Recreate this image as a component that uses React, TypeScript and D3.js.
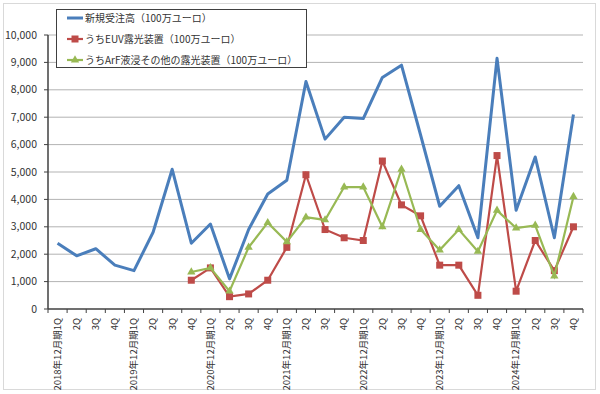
import React from 'react';
import * as d3 from 'd3';

const FISCAL_YEARS = [2018, 2019, 2020, 2021, 2022, 2023, 2024];
const QUARTERS = ['1Q', '2Q', '3Q', '4Q'];

// 新規受注高（100万ユーロ）
const ORDERS = [
  2400, 1940, 2200, 1600, 1400, 2800, 5100, 2400, 3100, 1100, 2900, 4200, 4700, 8300,
  6200, 7000, 6950, 8450, 8900, 6350, 3750, 4500, 2600, 9150, 3600, 5550, 2600, 7100,
];
// うちEUV露光装置
const EUV: (number | null)[] = [
  null, null, null, null, null, null, null,
  1050, 1500, 450, 550, 1050, 2250, 4900, 2900, 2600, 2500, 5400, 3800, 3400,
  1600, 1600, 500, 5600, 650, 2500, 1400, 3000,
];
// うちArF液浸その他の露光装置
const ARF: (number | null)[] = [
  null, null, null, null, null, null, null,
  1350, 1500, 650, 2250, 3150, 2450, 3350, 3250, 4450, 4450, 3000, 5100, 2900,
  2150, 2900, 2100, 3600, 2950, 3050, 1200, 4100,
];

const Y_TICKS = [0, 1000, 2000, 3000, 4000, 5000, 6000, 7000, 8000, 9000, 10000];

const SERIES_NAMES = [
  '新規受注高（100万ユーロ）',
  'うちEUV露光装置（100万ユーロ）',
  'うちArF液浸その他の露光装置（100万ユーロ）',
];

const BLUE = '#4A7EBB';
const RED = '#BE4B48';
const GREEN = '#98B954';
const FONT = '"Noto Sans CJK JP", "DejaVu Sans", sans-serif';

const categories = FISCAL_YEARS.flatMap((y) =>
  QUARTERS.map((q, i) => (i === 0 ? `${y}年12月期${q}` : q))
);

const App: React.FC = () => {
  const width = 600;
  const height = 394;
  const left = 48;
  const right = 583;
  const top = 35;
  const bottom = 309;

  const x = d3.scaleBand<number>()
    .domain(categories.map((_, i) => i))
    .range([left, right])
    .padding(0);
  const bw = x.bandwidth();
  const cx = (i: number) => (x(i) as number) + bw / 2;

  const y = d3.scaleLinear().domain([0, 10000]).range([bottom, top]);

  const line = d3.line<number | null>()
    .defined((d) => d != null)
    .x((_, i) => cx(i))
    .y((d) => y(d as number));

  const tri = d3.symbol().type(d3.symbolTriangle).size(30)() as string;

  return (
    <svg
      width={width}
      height={height}
      style={{ position: 'absolute', left: 0, top: 0, background: '#fff' }}
      fontFamily={FONT}
    >
      <rect x={3.5} y={3.5} width={592} height={386} fill="#fff" stroke="#d9d9d9" />

      {/* gridlines */}
      {Y_TICKS.filter((t) => t > 0).map((t) => (
        <line key={t} x1={left} x2={right} y1={y(t)} y2={y(t)} stroke="#b3b3b3" strokeWidth={1} />
      ))}

      {/* y axis */}
      <line x1={left} x2={left} y1={y(10000)} y2={bottom} stroke="#404040" strokeWidth={1.5} />
      {Y_TICKS.map((t) => (
        <g key={t}>
          <line x1={left - 4} x2={left} y1={y(t)} y2={y(t)} stroke="#404040" />
          <text x={37} y={y(t)} dy="0.35em" textAnchor="end" fontSize={10.5} fill="#333">
            {d3.format(',')(t)}
          </text>
        </g>
      ))}

      {/* x axis */}
      <line x1={left} x2={right} y1={bottom} y2={bottom} stroke="#404040" strokeWidth={1.5} />
      {d3.range(categories.length + 1).map((i) => (
        <line key={i} x1={left + i * bw} x2={left + i * bw} y1={bottom} y2={bottom + 4} stroke="#404040" />
      ))}
      {categories.map((c, i) => (
        <text
          key={i}
          transform={`translate(${cx(i)},${bottom + 9}) rotate(-90)`}
          textAnchor="end"
          dy="0.35em"
          fontSize={9.5}
          fill="#333"
        >
          {c}
        </text>
      ))}

      {/* series */}
      <path d={line(ORDERS) as string} fill="none" stroke={BLUE} strokeWidth={3} strokeLinejoin="round" />
      <path d={line(EUV) as string} fill="none" stroke={RED} strokeWidth={2.2} />
      {EUV.map((d, i) =>
        d == null ? null : (
          <rect key={i} x={cx(i) - 3.5} y={y(d) - 3.5} width={7} height={7} fill={RED} />
        )
      )}
      <path d={line(ARF) as string} fill="none" stroke={GREEN} strokeWidth={2.2} />
      {ARF.map((d, i) =>
        d == null ? null : (
          <path key={i} d={tri} transform={`translate(${cx(i)},${y(d)})`} fill={GREEN} />
        )
      )}

      {/* legend */}
      <rect x={56.5} y={9.5} width={250} height={58} fill="#fff" stroke="#404040" />
      {SERIES_NAMES.map((name, i) => {
        const ly = 18 + i * 21;
        const color = [BLUE, RED, GREEN][i];
        return (
          <g key={name}>
            <line x1={67} x2={83} y1={ly} y2={ly} stroke={color} strokeWidth={i === 0 ? 3 : 2.2} />
            {i === 1 && <rect x={71.5} y={ly - 3.5} width={7} height={7} fill={RED} />}
            {i === 2 && <path d={tri} transform={`translate(75,${ly})`} fill={GREEN} />}
            <text x={85} y={ly} dy="0.35em" fontSize={10} fill="#333">
              {name}
            </text>
          </g>
        );
      })}
    </svg>
  );
};

export default App;
